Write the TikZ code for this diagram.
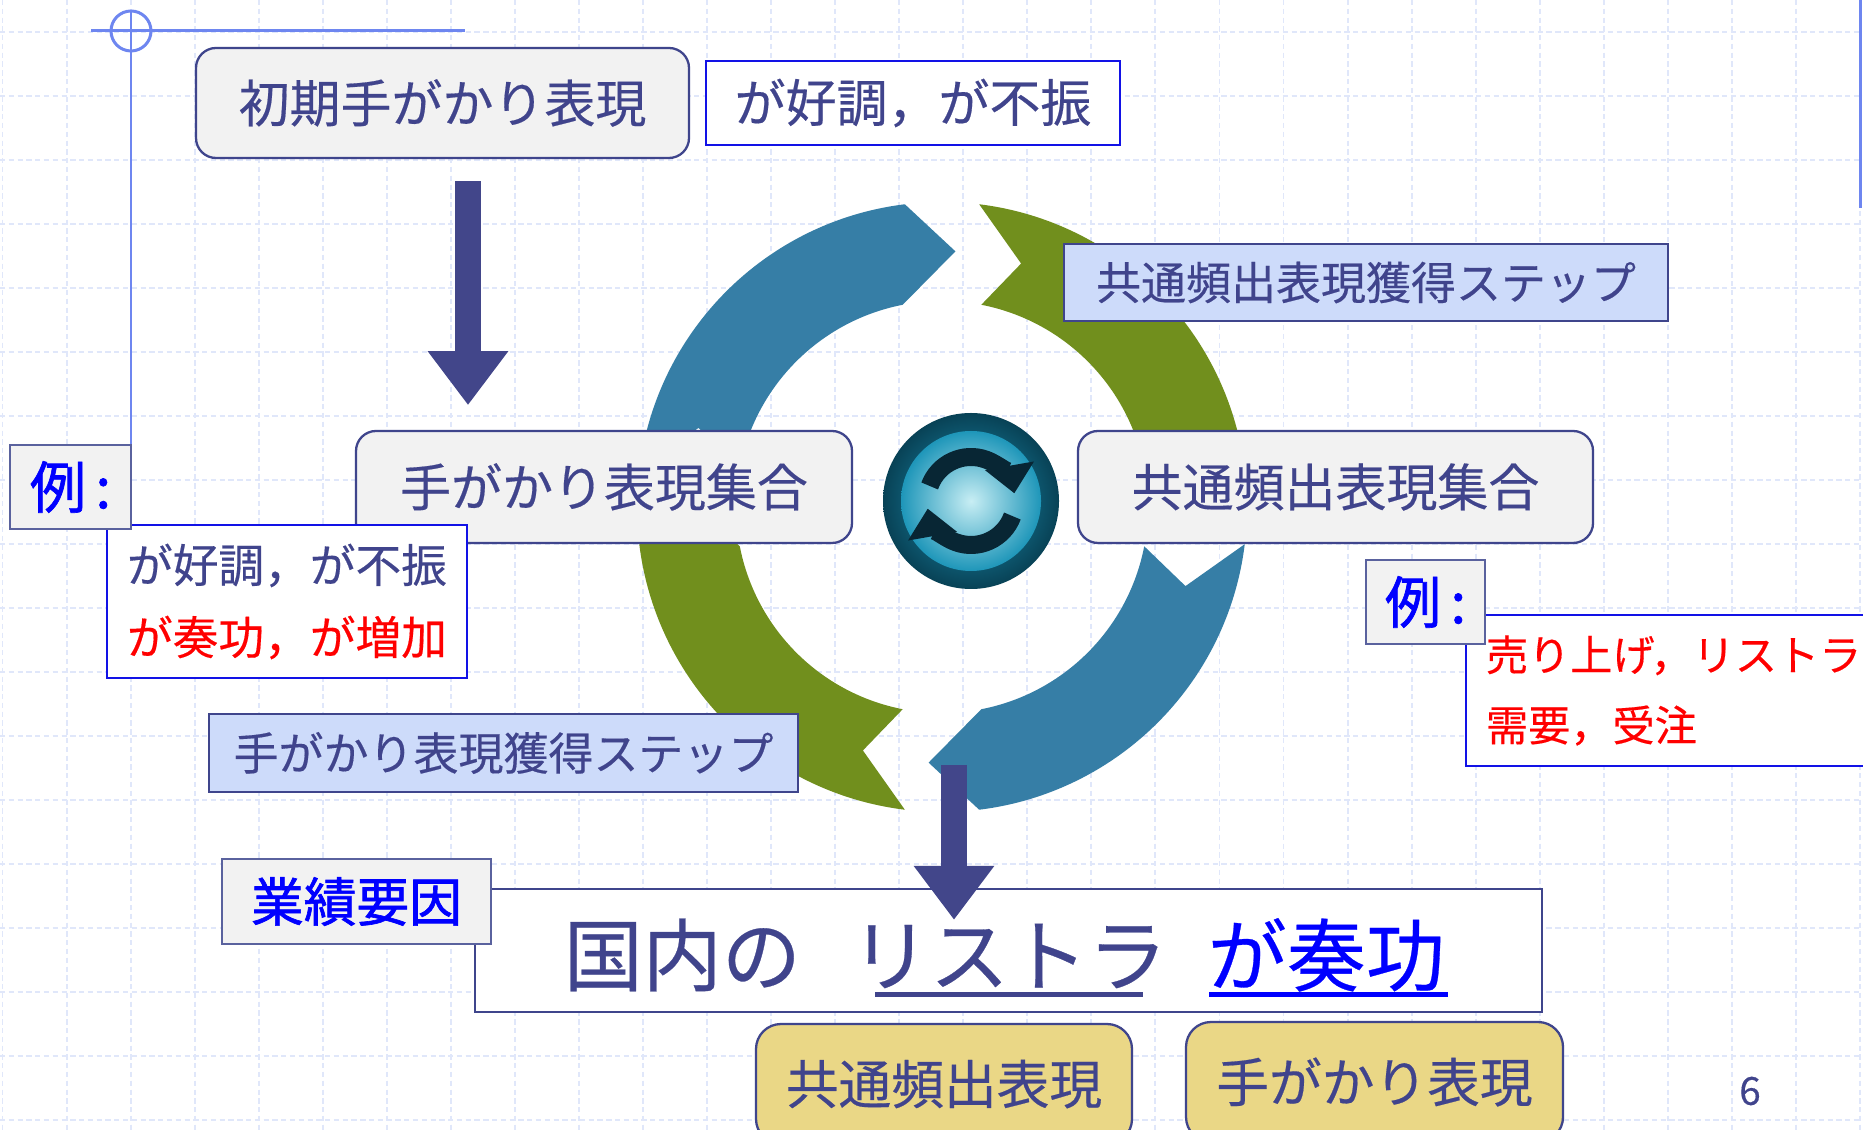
\documentclass[tikz,border=0pt]{standalone}
\usepackage{fontspec}
\setmainfont{Noto Sans CJK JP}[FakeBold=0.35]
\newfontfamily\tagfont{Noto Sans CJK JP}[FakeBold=1.2]
\usetikzlibrary{arrows.meta}

\definecolor{navytext}{RGB}{64,68,140}
\definecolor{boxline}{RGB}{63,69,140}
\definecolor{tagline}{RGB}{90,98,158}
\definecolor{boxgrey}{RGB}{242,242,242}
\definecolor{stepfill}{RGB}{205,219,250}
\definecolor{keyfill}{RGB}{234,215,134}
\definecolor{exblue}{RGB}{18,18,230}
\definecolor{ringblue}{RGB}{54,126,166}
\definecolor{ringgreen}{RGB}{113,143,29}
\definecolor{gridblue}{RGB}{224,231,250}
\definecolor{rulerblue}{RGB}{110,134,240}
\definecolor{arrownavy}{RGB}{66,70,138}
\definecolor{syncdark}{RGB}{8,38,52}
\definecolor{syncrim}{RGB}{8,66,86}
\definecolor{syncmid}{RGB}{30,150,185}
\definecolor{synclight}{RGB}{200,238,244}

\tikzset{
  setbox/.style={draw=boxline, line width=0.65pt, fill=boxgrey, rounded corners=0.2cm,
    text=navytext, font=\fontsize{14.5}{17}\selectfont},
  stepbox/.style={draw=boxline, line width=0.65pt, fill=stepfill, text=navytext,
    font=\fontsize{12.8}{15}\selectfont},
  tagbox/.style={draw=tagline, line width=0.6pt, fill=boxgrey, text=blue},
  exbox/.style={draw=exblue, line width=0.55pt, fill=white, text=navytext, align=left},
  keybox/.style={draw=boxline, line width=0.65pt, fill=keyfill, rounded corners=0.25cm,
    text=navytext, font=\fontsize{15}{18}\selectfont},
  phrasetext/.style={anchor=base west, inner sep=0pt, font=\fontsize{22.5}{27}\selectfont},
  bigarrow/.style={arrownavy, line width=0.26cm, -{Triangle[width=0.77cm,length=0.54cm]}},
  sync/.style={syncdark, line width=0.18cm, -{Triangle[width=0.48cm,length=0.28cm]}},
}

\begin{document}
\begin{tikzpicture}
    \useasboundingbox (0,0) rectangle (18.63,-11.30);
    \fill[white] (0,0) rectangle (18.63,-11.30);

    % Squared paper
    \foreach \i in {0,...,29}
        \draw[gridblue, line width=0.55pt, dash pattern=on 1.5pt off 1pt] (0.025+0.6405*\i,0) -- (0.025+0.6405*\i,-11.30);
    \foreach \j in {0,...,17}
        \draw[gridblue, line width=0.55pt, dash pattern=on 1.5pt off 1pt] (0,-0.32-0.64*\j) -- (18.63,-0.32-0.64*\j);

    % Corner rulers
    \draw[rulerblue, line width=0.85pt] (0.91,-0.31) -- (4.65,-0.31);
    \draw[rulerblue, line width=0.85pt] (1.31,-0.10) -- (1.31,-4.97);
    \draw[rulerblue, line width=0.85pt] (1.31,-0.31) circle (0.20);
    \draw[rulerblue, line width=0.85pt] (18.60,0) -- (18.60,-2.08);

    % Cycle of four arrows (tail angle / head angle)
    \begin{scope}[shift={(9.42,-5.07)}]
        \foreach \a/\b/\c in {173/97/ringblue, 83/7/ringgreen, -7/-83/ringblue, -97/-173/ringgreen}
            \fill[\c] (\a:3.05) arc[start angle=\a, end angle=\b, radius=3.05]
                -- ({\b-10}:2.56) -- ({\b+4}:2.06)
                arc[start angle=\b+4, end angle=\a-4, radius=2.06]
                -- ({\a-11}:2.56) -- cycle;
    \end{scope}

    % Refresh button in the middle
    \node[circle, minimum size=1.76cm, inner sep=0pt, inner color=syncmid, outer color=syncrim] (btn) at (9.71,-5.01) {};
    \shade[inner color=synclight, outer color=syncmid] (btn.center) circle (0.70);
    \draw[sync] ([shift={(160:0.44)}]btn.center) arc[start angle=160, end angle=10, radius=0.44];
    \draw[sync] ([shift={(-20:0.44)}]btn.center) arc[start angle=-20, end angle=-170, radius=0.44];

    % Sets and steps
    \node[setbox, minimum width=4.93cm, minimum height=1.10cm] (init) at (4.425,-1.03) {初期手がかり表現};
    \node[exbox, minimum width=4.14cm, minimum height=0.84cm, font=\fontsize{14.5}{17}\selectfont] (initex) at (9.13,-1.03) {が好調，が不振};
    \node[setbox, minimum width=4.96cm, minimum height=1.12cm] (cueset) at (6.04,-4.87) {手がかり表現集合};
    \node[setbox, minimum width=5.15cm, minimum height=1.12cm] (commonset) at (13.355,-4.87) {共通頻出表現集合};
    \node[stepbox, minimum width=6.04cm, minimum height=0.77cm] (commonstep) at (13.66,-2.825) {共通頻出表現獲得ステップ};
    \node[stepbox, minimum width=5.89cm, minimum height=0.78cm] (cuestep) at (5.035,-7.53) {手がかり表現獲得ステップ};

    % Examples
    \node[exbox, minimum width=3.60cm, minimum height=1.53cm, font=\fontsize{13}{20.5}\selectfont] (cueex) at (2.87,-6.015)
        {が好調，が不振\\\textcolor{red}{が奏功，が増加}};
    \node[tagbox, minimum width=1.21cm, minimum height=0.84cm, font=\tagfont\fontsize{16}{18}\selectfont] (cuetag) at (0.705,-4.87) {例\,:};
    \node[exbox, anchor=north west, text width=4.1cm, inner xsep=0.2cm, minimum height=1.51cm,
        font=\fontsize{12}{20}\selectfont, text=red] (commonex) at (14.65,-6.14) {売り上げ，リストラ\\需要，受注};
    \node[tagbox, minimum width=1.19cm, minimum height=0.84cm, font=\tagfont\fontsize{16}{18}\selectfont] (commontag) at (14.255,-6.02) {例\,:};

    % Sample phrase
    \node[draw=boxline, line width=0.65pt, fill=white, minimum width=10.67cm, minimum height=1.23cm] (phrase) at (10.085,-9.505) {};
    \node[tagbox, minimum width=2.69cm, minimum height=0.85cm, font=\tagfont\fontsize{15}{18}\selectfont] (factor) at (3.565,-9.015) {業績要因};
    \node[phrasetext, text=navytext] (kokunai) at (5.63,-9.85) {国内の};
    \node[phrasetext, text=navytext] (risutora) at (8.50,-9.85) {リストラ};
    \node[phrasetext, text=blue] (sokou) at (12.07,-9.85) {が奏功};
    \draw[navytext, line width=0.05cm] ([xshift=0.25cm,yshift=-0.09cm]risutora.base west) -- ([xshift=-0.25cm,yshift=-0.09cm]risutora.base east);
    \draw[blue, line width=0.05cm] ([xshift=0.02cm,yshift=-0.09cm]sokou.base west) -- ([xshift=0.02cm,yshift=-0.09cm]sokou.base east);

    \node[keybox, minimum width=3.76cm, minimum height=1.2cm] (keycommon) at (9.44,-10.84) {共通頻出表現};
    \node[keybox, minimum width=3.77cm, minimum height=1.2cm] (keycue) at (13.745,-10.82) {手がかり表現};

    % Flow arrows
    \draw[bigarrow] ([xshift=0.255cm,yshift=-0.22cm]init.south) -- ++(0,-2.24);
    \draw[bigarrow] ([xshift=-0.545cm,yshift=1.23cm]phrase.north) -- ([xshift=-0.545cm,yshift=-0.32cm]phrase.north);

    \node[text=navytext, font=\fontsize{11}{13}\selectfont] (pagenum) at (17.50,-10.91) {6};
\end{tikzpicture}
\end{document}
